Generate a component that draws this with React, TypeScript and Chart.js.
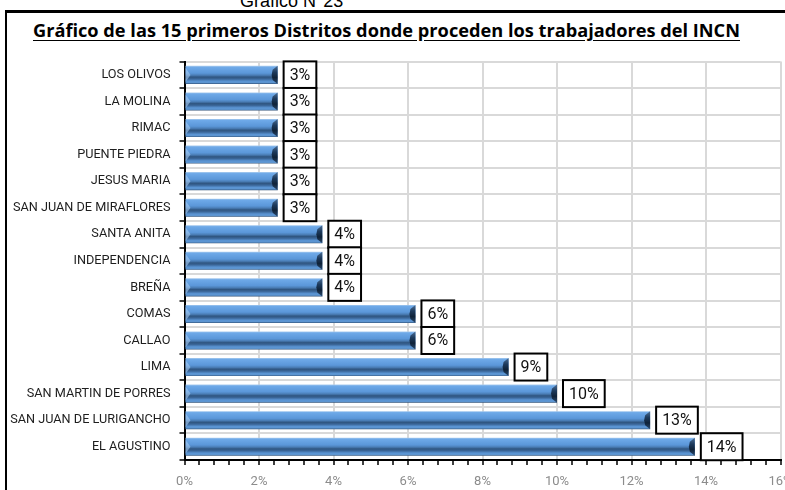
import React, { useEffect, useLayoutEffect, useRef } from "react";
import { Chart, registerables } from "chart.js";

Chart.register(...registerables);

const districts = [
  "LOS OLIVOS",
  "LA MOLINA",
  "RIMAC",
  "PUENTE PIEDRA",
  "JESUS MARIA",
  "SAN JUAN DE MIRAFLORES",
  "SANTA ANITA",
  "INDEPENDENCIA",
  "BREÑA",
  "COMAS",
  "CALLAO",
  "LIMA",
  "SAN MARTIN DE PORRES",
  "SAN JUAN DE LURIGANCHO",
  "EL AGUSTINO",
];

const shares = [2.5, 2.5, 2.5, 2.5, 2.5, 2.5, 3.7, 3.7, 3.7, 6.2, 6.2, 8.7, 10.0, 12.5, 13.7];

const xMin = 0;
const xMax = 16;
const xMinorStep = 0.4;
const xMajorStep = 2;

const chartTitle = "Gráfico de las 15 primeros Distritos donde proceden los trabajadores del INCN";
const pageCaption = "Gráfico N°23";

const isMajor = (v: number) => Math.abs(v / xMajorStep - Math.round(v / xMajorStep)) < 1e-6;

const BAR_PCT = 0.68;

const decorPlugin = {
  id: "barDecor",
  afterDatasetsDraw(chart: any) {
    const meta = chart.getDatasetMeta(0);
    const c: CanvasRenderingContext2D = chart.ctx;
    meta.data.forEach((bar: any) => {
      const { x, y, base, height } = bar.getProps(["x", "y", "base", "height"], true);
      const top = y - height / 2;
      const bot = y + height / 2;
      c.save();
      c.fillStyle = "rgba(175,210,245,0.55)";
      c.beginPath();
      c.moveTo(base, top + 2);
      c.lineTo(base + 5, y);
      c.lineTo(base, bot - 2);
      c.closePath();
      c.fill();
      const g = c.createLinearGradient(0, top, 0, bot);
      g.addColorStop(0, "#4d6f96");
      g.addColorStop(0.35, "#1d3a5c");
      g.addColorStop(0.65, "#0f2238");
      g.addColorStop(1, "#2b4a6e");
      c.fillStyle = g;
      c.beginPath();
      c.moveTo(x, top);
      c.lineTo(x - 5, top + 4);
      c.lineTo(x - 6, y);
      c.lineTo(x - 5, bot - 4);
      c.lineTo(x, bot);
      c.closePath();
      c.fill();
      c.restore();
    });
    meta.data.forEach((bar: any, i: number) => {
      const { x, y } = bar.getProps(["x", "y"], true);
      const txt = Math.round(shares[i]) + "%";
      c.save();
      c.font = "16px Roboto";
      const tw = c.measureText(txt).width;
      const bw = tw + 12;
      const bh = 27;
      const bx = x + 6;
      const by = y - bh / 2;
      c.fillStyle = "#ffffff";
      c.fillRect(bx, by, bw, bh);
      c.lineWidth = 2;
      c.strokeStyle = "#000000";
      c.strokeRect(bx, by, bw, bh);
      c.fillStyle = "#111111";
      c.textAlign = "center";
      c.textBaseline = "middle";
      c.fillText(txt, bx + bw / 2, y + 1);
      c.restore();
    });
  },
};

function ChartCanvas() {
  const ref = useRef<HTMLCanvasElement | null>(null);
  useEffect(() => {
    if (!ref.current) return;
    const chart = new Chart(ref.current, {
      type: "bar",
      data: {
        labels: districts,
        datasets: [
          {
            data: shares,
            barPercentage: BAR_PCT,
            categoryPercentage: 1,
            borderWidth: 0,
            backgroundColor: (ctx: any) => {
              const ch = ctx.chart;
              const area = ch.chartArea;
              if (!area || ctx.type !== "data") return "#5b97d9";
              const ys = ch.scales.y;
              const yc = ys.getPixelForValue(ctx.dataIndex);
              const h = ((area.bottom - area.top) / districts.length) * BAR_PCT;
              const g = ch.ctx.createLinearGradient(0, yc - h / 2, 0, yc + h / 2);
              g.addColorStop(0, "#a9cbee");
              g.addColorStop(0.08, "#6ea9e8");
              g.addColorStop(0.4, "#5b97d9");
              g.addColorStop(0.52, "#4a7db5");
              g.addColorStop(0.62, "#2f5580");
              g.addColorStop(0.72, "#3a6597");
              g.addColorStop(0.85, "#5a94d3");
              g.addColorStop(0.94, "#5d95d0");
              g.addColorStop(1, "#2f4f75");
              return g;
            },
          },
        ],
      },
      options: {
        indexAxis: "y",
        animation: false,
        responsive: false,
        maintainAspectRatio: false,
        layout: { padding: { top: 16, right: 39.5, left: 0, bottom: 0 } },
        plugins: {
          legend: { display: false },
          tooltip: { enabled: false },
          title: { display: false },
        },
        scales: {
          x: {
            type: "linear",
            min: xMin,
            max: xMax,
            ticks: {
              stepSize: xMinorStep,
              autoSkip: false,
              maxTicksLimit: 200,
              maxRotation: 0,
              minRotation: 0,
              padding: 9,
              color: "#8c8c8c",
              font: { family: "Roboto", size: 13 },
              callback: (v: any) => (isMajor(Number(v)) ? Math.round(Number(v)) + "%" : ""),
            },
            grid: {
              color: (ctx: any) => (ctx.tick && isMajor(ctx.tick.value) ? "#d9d9d9" : "rgba(0,0,0,0)"),
              lineWidth: 2,
              tickColor: "#000000",
              tickLength: 5,
              tickWidth: 1.5,
            },
            border: { color: "#000000", width: 2 },
            afterFit: (s: any) => {
              s.height = 30;
            },
          },
          y: {
            ticks: {
              autoSkip: false,
              padding: 9,
              color: "#1e1e1e",
              font: { family: "Roboto", size: 12.7 },
            },
            grid: {
              color: "#d9d9d9",
              lineWidth: 2,
              tickColor: "#000000",
              tickLength: 5,
              tickWidth: 1.5,
            },
            border: { color: "#000000", width: 2 },
            afterFit: (s: any) => {
              s.width = 176.5;
            },
          },
        },
      } as any,
      plugins: [decorPlugin],
    });
    return () => chart.destroy();
  }, []);
  return (
    <canvas
      ref={ref}
      width={812}
      height={445}
      style={{ position: "absolute", left: 8, top: 45, width: 812, height: 445 }}
    />
  );
}

export default function App() {
  const titleRef = useRef<HTMLSpanElement | null>(null);
  useLayoutEffect(() => {
    const el = titleRef.current;
    if (!el) return;
    el.style.transform = "none";
    const w = el.getBoundingClientRect().width;
    if (w > 0) el.style.transform = `scaleX(${707 / w})`;
  }, []);
  return (
    <div
      style={{
        position: "absolute",
        left: 0,
        top: 0,
        width: 785,
        height: 490,
        overflow: "hidden",
        background: "#ffffff",
      }}
    >
      <div
        style={{
          position: "absolute",
          left: 240,
          top: -10,
          fontFamily: "'Liberation Sans', Arial, sans-serif",
          fontSize: 18,
          lineHeight: "22px",
          color: "#000",
          whiteSpace: "nowrap",
        }}
      >
        {pageCaption}
      </div>
      <div
        style={{
          position: "absolute",
          left: 5,
          top: 10,
          width: 900,
          height: 600,
          borderTop: "3px solid #000",
          borderLeft: "2px solid #000",
        }}
      />
      <span
        ref={titleRef}
        style={{
          position: "absolute",
          left: 33,
          top: 19,
          display: "inline-block",
          transformOrigin: "left top",
          fontFamily: "'Open Sans', sans-serif",
          fontWeight: 700,
          fontSize: 18,
          lineHeight: "22px",
          color: "#000",
          whiteSpace: "nowrap",
          textDecoration: "underline",
          textUnderlineOffset: "3px",
        }}
      >
        {chartTitle}
      </span>
      <ChartCanvas />
    </div>
  );
}
